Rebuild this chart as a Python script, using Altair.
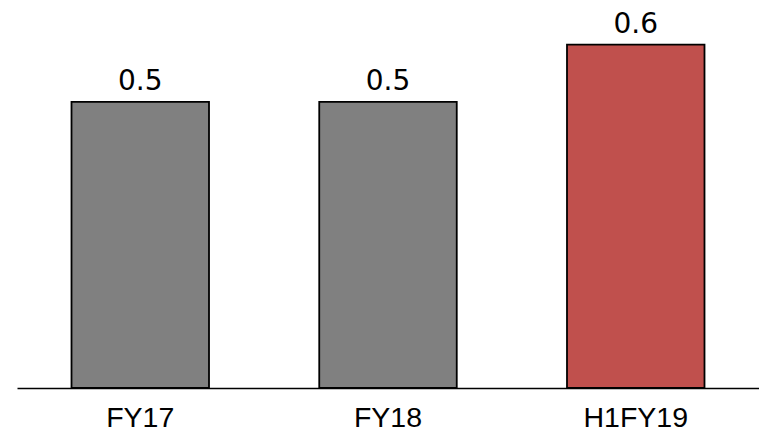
import altair as alt
import pandas as pd

periods = ["FY17", "FY18", "H1FY19"]
values = [0.5, 0.5, 0.6]
colors = ["#808080", "#808080", "#C0504D"]

df = pd.DataFrame({"period": periods, "value": values, "color": colors})

base = alt.Chart(df).encode(
    x=alt.X(
        "period:N",
        sort=periods,
        scale=alt.Scale(paddingInner=0.445, paddingOuter=0.22),
        axis=alt.Axis(
            title=None,
            ticks=False,
            domainColor="black",
            domainWidth=1.5,
            labelAngle=0,
            labelFont="Liberation Sans",
            labelFontSize=28.5,
            labelColor="black",
            labelPadding=15,
        ),
    ),
    y=alt.Y("value:Q", scale=alt.Scale(domain=[0, 0.678], nice=False), axis=None),
)

bars = base.mark_bar(stroke="black", strokeWidth=1.8).encode(
    color=alt.Color("color:N", scale=None),
)

labels = base.mark_text(
    baseline="alphabetic", dy=-12, font="DejaVu Sans", fontSize=28, color="black"
).encode(
    text=alt.Text("value:Q", format=".1f"),
)

chart = (
    alt.layer(bars, labels)
    .properties(
        width=742,
        height=388,
        autosize=alt.AutoSizeParams(type="none"),
        padding={"left": 17, "top": 0, "right": 0, "bottom": 48},
    )
    .configure_view(stroke=None)
)

chart.save("out.html", embed_options={"renderer": "svg", "actions": False})
